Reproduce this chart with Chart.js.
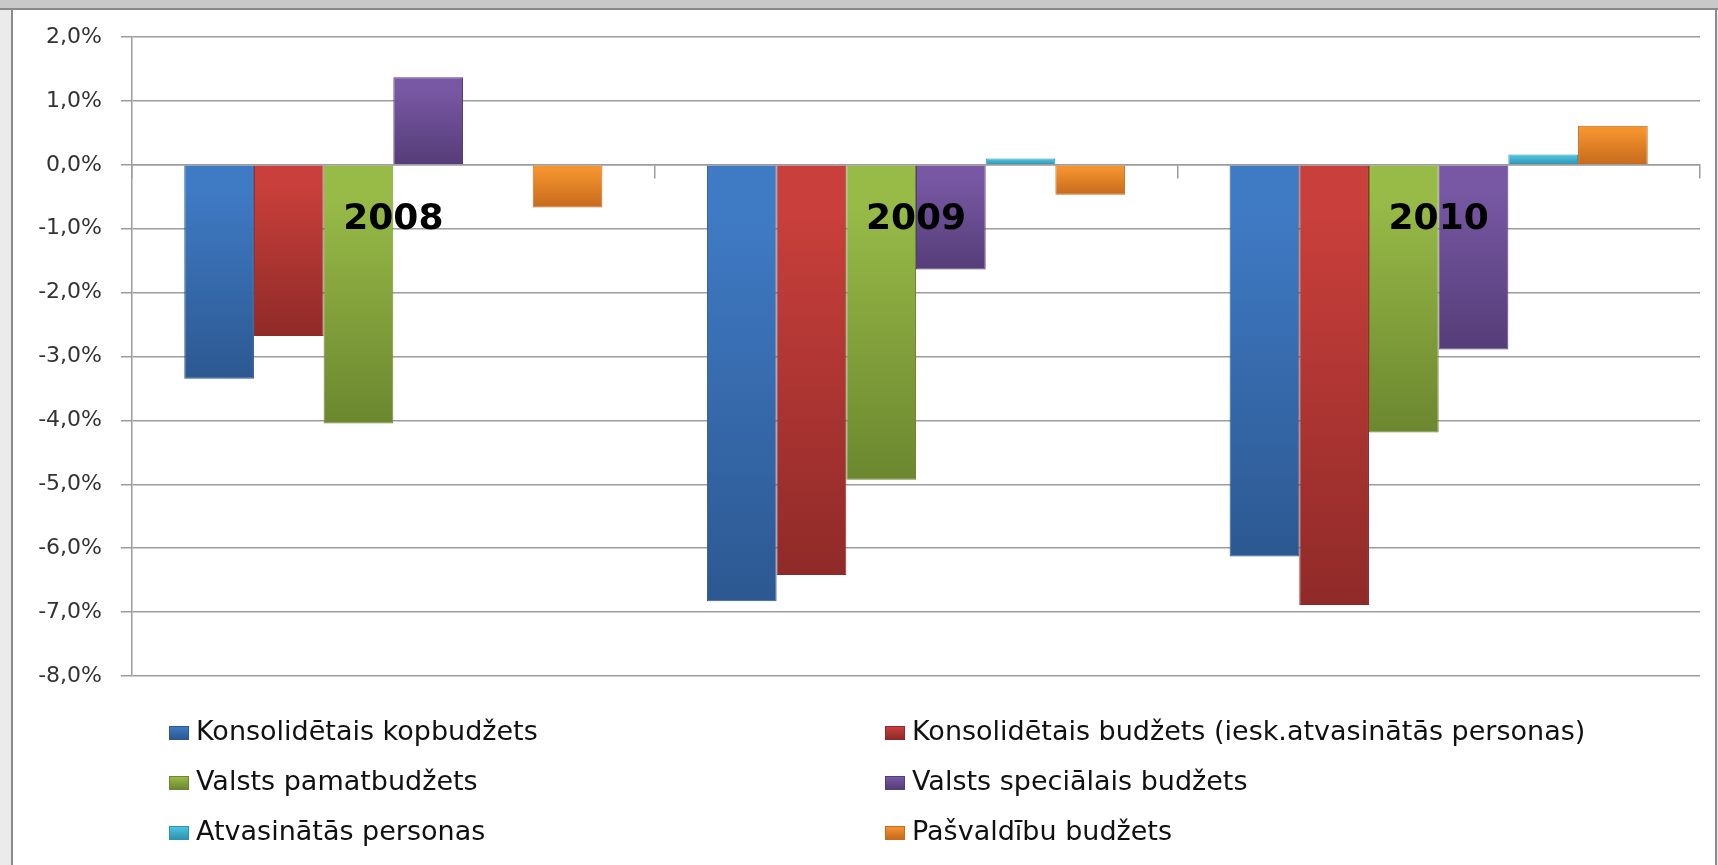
<!DOCTYPE html>
<html>
<head>
<meta charset="utf-8">
<script src="https://cdn.jsdelivr.net/npm/chart.js@4.4.1/dist/chart.umd.min.js"></script>
<style>
    html, body { margin: 0; padding: 0; background: #fff; overflow: hidden; }
    #wrap { position: relative; width: 1718px; height: 865px; }
    #top-strip { position: absolute; left: 0; top: 0; width: 1718px; height: 8px; background: #c9c9c9; border-bottom: 2px solid #8a8a8a; }
    #left-strip { position: absolute; left: 0; top: 10px; width: 11px; height: 855px; background: #ebebeb; border-right: 2px solid #8a8a8a; }
    #right-strip { position: absolute; left: 1715px; top: 10px; width: 1px; height: 855px; background: #ebebeb; border-left: 2px solid #8a8a8a; }
    #chart { position: absolute; left: 0; top: 0; }
    #legend { position: absolute; left: 169px; top: 716px; display: grid; grid-template-columns: 716px auto; grid-auto-rows: 50px; font-family: "DejaVu Sans", sans-serif; font-size: 27px; color: #111; }
    .item { display: flex; align-items: flex-start; height: 30px; line-height: 30px; white-space: nowrap; }
    .box { width: 20px; height: 14px; margin-top: 10px; margin-right: 7px; box-sizing: border-box; flex: none; }
</style>
</head>
<body>
<div id="wrap">
    <div id="top-strip"></div>
    <div id="left-strip"></div>
    <div id="right-strip"></div>
    <canvas id="chart" width="1718" height="865"></canvas>
    <div id="legend"></div>
</div>
<script>
const years = ['2008', '2009', '2010'];

const seriesNames = [
    'Konsolidētais kopbudžets',
    'Konsolidētais budžets (iesk.atvasinātās personas)',
    'Valsts pamatbudžets',
    'Valsts speciālais budžets',
    'Atvasinātās personas',
    'Pašvaldību budžets'
];

const kopbudzets = [-3.35, -6.83, -6.13];
const konsolidetaisAtv = [-2.68, -6.42, -6.89];
const pamatbudzets = [-4.05, -4.93, -4.19];
const specialais = [1.37, -1.64, -2.89];
const atvasinatas = [0, 0.10, 0.16];
const pasvaldibu = [-0.67, -0.47, 0.61];

const yTicks = [2, 1, 0, -1, -2, -3, -4, -5, -6, -7, -8];

// light / dark pairs for the bevelled bars
const palette = [
    ['#3f7ac4', '#2c5891'],
    ['#c83f3b', '#8f2a28'],
    ['#98bb48', '#6c872f'],
    ['#7858a4', '#553d78'],
    ['#4cc3e0', '#2f93b0'],
    ['#f4932f', '#c66a1c']
];

const yearLabelLevel = -0.86;

function barFill(light, dark) {
    return (ctx) => {
        const chart = ctx.chart;
        const y = chart.scales.y;
        if (!y || ctx.type !== 'data') return light;
        const p0 = y.getPixelForValue(0);
        const p1 = y.getPixelForValue(ctx.raw);
        if (!Number.isFinite(p0) || !Number.isFinite(p1)) return light;
        const top = Math.min(p0, p1);
        const bottom = Math.max(p0, p1);
        if (bottom - top < 2) return light;
        const g = chart.ctx.createLinearGradient(0, top, 0, bottom);
        g.addColorStop(0, light);
        g.addColorStop(0.12, light);
        g.addColorStop(1, dark);
        return g;
    };
}

const allValues = [kopbudzets, konsolidetaisAtv, pamatbudzets, specialais, atvasinatas, pasvaldibu];

const datasets = allValues.map((values, i) => ({
    label: seriesNames[i],
    data: values,
    backgroundColor: barFill(palette[i][0], palette[i][1]),
    borderColor: palette[i][1],
    borderWidth: (ctx) => (ctx.raw === 0 ? 0 : 1),
    categoryPercentage: 0.8,
    barPercentage: 1.0
}));

const yearLabels = {
    id: 'yearLabels',
    afterDatasetsDraw(chart) {
        const { ctx, scales } = chart;
        ctx.save();
        ctx.font = 'bold 36px "DejaVu Sans"';
        ctx.fillStyle = '#000';
        ctx.textAlign = 'center';
        ctx.textBaseline = 'middle';
        years.forEach((year, i) => {
            ctx.fillText(year, scales.x.getPixelForValue(i), scales.y.getPixelForValue(yearLabelLevel));
        });
        ctx.restore();
    }
};

new Chart(document.getElementById('chart'), {
    type: 'bar',
    data: { labels: years, datasets: datasets },
    options: {
        responsive: false,
        animation: false,
        layout: { padding: { top: 37, bottom: 189, left: 0, right: 18 } },
        plugins: {
            legend: { display: false },
            tooltip: { enabled: false }
        },
        scales: {
            x: {
                position: { y: 0 },
                offset: true,
                grid: { display: true, drawOnChartArea: false, offset: true, tickLength: 13, color: '#9c9c9c', lineWidth: 1.5 },
                border: { display: true, color: '#9c9c9c', width: 1.5 },
                ticks: { display: false }
            },
            y: {
                min: -8,
                max: 2,
                afterBuildTicks: (scale) => { scale.ticks = yTicks.map(v => ({ value: v })); },
                afterFit: (scale) => { scale.width = 132; },
                grid: { color: '#9c9c9c', lineWidth: 1.5, tickLength: 11 },
                border: { color: '#9c9c9c', width: 1.5 },
                ticks: {
                    padding: 19,
                    color: '#333',
                    font: { family: '"DejaVu Sans"', size: 22 },
                    callback: (v) => v.toFixed(1).replace('.', ',') + '%'
                }
            }
        }
    },
    plugins: [yearLabels]
});

const legend = document.getElementById('legend');
seriesNames.forEach((name, i) => {
    const item = document.createElement('div');
    item.className = 'item';
    const box = document.createElement('span');
    box.className = 'box';
    box.style.background = `linear-gradient(${palette[i][0]}, ${palette[i][1]})`;
    box.style.border = `1px solid ${palette[i][1]}`;
    const text = document.createElement('span');
    text.textContent = name;
    item.appendChild(box);
    item.appendChild(text);
    legend.appendChild(item);
});
</script>
</body>
</html>
